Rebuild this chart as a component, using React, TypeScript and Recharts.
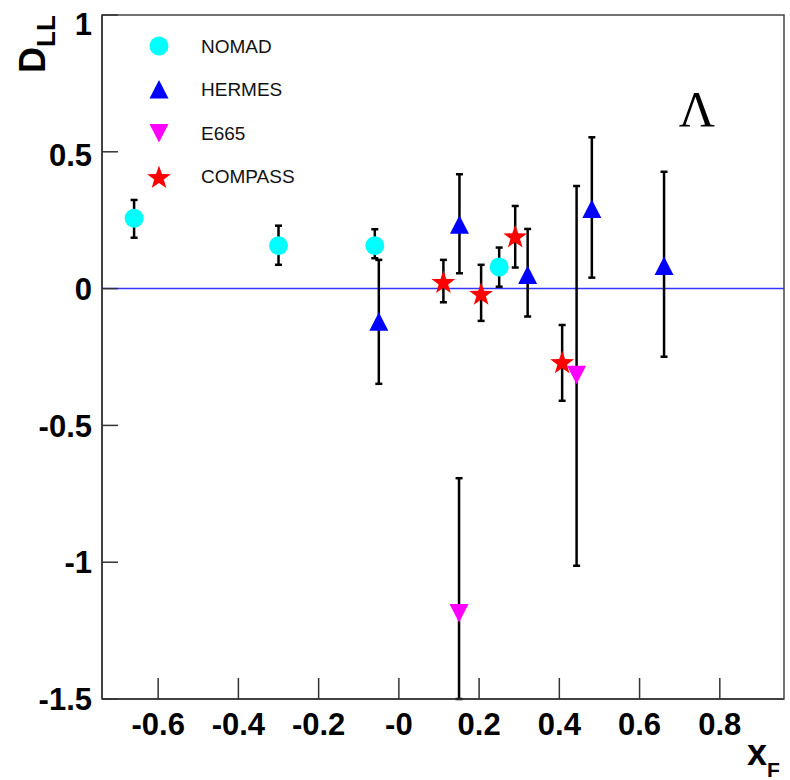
import React from 'react';
import {
  ScatterChart,
  Scatter,
  XAxis,
  YAxis,
  ErrorBar,
  ReferenceLine,
  ReferenceArea,
  Legend,
  Customized,
} from 'recharts';

// ---------- axis data ----------
const xTicks = [-0.6, -0.4, -0.2, 0, 0.2, 0.4, 0.6, 0.8];
const yTicks = [-1.5, -1, -0.5, 0, 0.5, 1];
const xDomain: [number, number] = [-0.74, 0.96];
const yDomain: [number, number] = [-1.5, 1];

// ---------- series data (x_F, D_LL, [lower error, upper error]) ----------
const nomad = [
  { x: -0.66, y: 0.257, err: [0.071, 0.067] },
  { x: -0.3, y: 0.157, err: [0.07, 0.073] },
  { x: -0.06, y: 0.157, err: [0.046, 0.06] },
  { x: 0.25, y: 0.079, err: [0.072, 0.071] },
];
const hermes = [
  { x: -0.05, y: -0.121, err: [0.227, 0.226] },
  { x: 0.151, y: 0.233, err: [0.177, 0.185] },
  { x: 0.321, y: 0.05, err: [0.152, 0.168] },
  { x: 0.481, y: 0.291, err: [0.251, 0.262] },
  { x: 0.661, y: 0.083, err: [0.332, 0.344] },
];
const e665 = [
  { x: 0.15, y: -1.186, err: [0.314, 0.493] },
  { x: 0.443, y: -0.315, err: [0.698, 0.69] },
];
const compass = [
  { x: 0.111, y: 0.026, err: [0.076, 0.079] },
  { x: 0.205, y: -0.017, err: [0.101, 0.104] },
  { x: 0.29, y: 0.193, err: [0.116, 0.109] },
  { x: 0.407, y: -0.267, err: [0.143, 0.134] },
];

const seriesNames = ['NOMAD', 'HERMES', 'E665', 'COMPASS'];
const seriesData = [nomad, hermes, e665, compass];

// ---------- styles ----------
const seriesStyle: Record<string, { color: string; kind: string }> = {
  NOMAD: { color: '#00ffff', kind: 'circle' },
  HERMES: { color: '#0000ff', kind: 'up' },
  E665: { color: '#ff00ff', kind: 'down' },
  COMPASS: { color: '#ff0000', kind: 'star' },
};

const SANS = '"Liberation Sans", Arial, Helvetica, sans-serif';
const SERIF = '"Liberation Serif", "Times New Roman", serif';

function Marker({ kind, cx, cy, color }: { kind: string; cx: number; cy: number; color: string }) {
  if (cx == null || cy == null) return null;
  if (kind === 'circle') return <circle cx={cx} cy={cy} r={9.5} fill={color} />;
  if (kind === 'up')
    return (
      <polygon
        points={`${cx},${cy - 9.5} ${cx - 9.5},${cy + 9} ${cx + 9.5},${cy + 9}`}
        fill={color}
      />
    );
  if (kind === 'down')
    return (
      <polygon
        points={`${cx},${cy + 9.5} ${cx - 9.5},${cy - 9} ${cx + 9.5},${cy - 9}`}
        fill={color}
      />
    );
  const pts: string[] = [];
  for (let i = 0; i < 10; i++) {
    const r = i % 2 === 0 ? 12.5 : 5;
    const a = -Math.PI / 2 + (i * Math.PI) / 5;
    pts.push(`${cx + r * Math.cos(a)},${cy + 1.5 + r * Math.sin(a)}`);
  }
  return <polygon points={pts.join(' ')} fill={color} />;
}

const fmtY = (v: number) => String(v);
const fmtX = (v: number) => (v === 0 ? '-0' : String(v));

const YTick = (props: any) => {
  const { x, y, payload } = props;
  const shift = payload.value === yDomain[1] ? 9 : payload.value === 0.5 ? 3 : 0;
  return (
    <g>
      <line x1={x + 10} x2={x + 26} y1={y} y2={y} stroke="#333" strokeWidth={1.5} />
      <text
        x={x}
        y={y + shift}
        dy="0.36em"
        textAnchor="end"
        fontSize={31}
        fontWeight="bold"
        fontFamily={SANS}
        fill="#000"
      >
        {fmtY(payload.value)}
      </text>
    </g>
  );
};

const XTick = (props: any) => {
  const { x, y, payload } = props;
  return (
    <g>
      <line x1={x} x2={x} y1={y - 14} y2={y - 35} stroke="#333" strokeWidth={1.5} />
      <text
        x={x}
        y={y}
        dy="0.71em"
        textAnchor="middle"
        fontSize={31}
        fontWeight="bold"
        fontFamily={SANS}
        fill="#000"
      >
        {fmtX(payload.value)}
      </text>
    </g>
  );
};

const LegendContent = () => (
  <svg width={220} height={175} style={{ display: 'block' }}>
    {seriesNames.map((name, i) => {
      const st = seriesStyle[name];
      const cy = 20 + i * 43.5;
      return (
        <g key={name}>
          <Marker kind={st.kind} cx={20} cy={cy} color={st.color} />
          <text x={62} y={cy} dy="0.36em" fontSize={19} fontFamily={SANS} fill="#111">
            {name}
          </text>
        </g>
      );
    })}
  </svg>
);

const Titles = () => (
  <g>
    <text
      x={45}
      y={73}
      transform="rotate(-90 45 73)"
      fontSize={36}
      fontWeight="bold"
      fontFamily={SANS}
      fill="#000"
    >
      D
      <tspan dy={10} fontSize={26}>
        LL
      </tspan>
    </text>
    <text x={747} y={765} fontSize={36} fontWeight="bold" fontFamily={SANS} fill="#000">
      x
      <tspan dy={12} fontSize={21}>
        F
      </tspan>
    </text>
    <text x={697} y={126} textAnchor="middle" fontSize={50} fontFamily={SERIF} fill="#000">
      Λ
    </text>
  </g>
);

export default function App() {
  return (
    <div
      style={{
        position: 'absolute',
        left: 0,
        top: 0,
        width: 790,
        height: 780,
        background: '#fff',
        fontFamily: SANS,
      }}
    >
      <ScatterChart
        width={790}
        height={780}
        margin={{ top: 15, right: 6, bottom: 51, left: 42 }}
      >
        <XAxis
          type="number"
          dataKey="x"
          domain={xDomain}
          ticks={xTicks}
          allowDataOverflow
          height={30}
          tickSize={0}
          tickMargin={14}
          tickLine={false}
          axisLine={{ stroke: '#333', strokeWidth: 1.5 }}
          tick={<XTick />}
          interval={0}
        />
        <YAxis
          type="number"
          dataKey="y"
          domain={yDomain}
          ticks={yTicks}
          allowDataOverflow
          width={60}
          tickSize={0}
          tickMargin={10}
          tickLine={false}
          axisLine={{ stroke: '#333', strokeWidth: 1.5 }}
          tick={<YTick />}
          interval={0}
        />
        <ReferenceArea
          x1={xDomain[0]}
          x2={xDomain[1]}
          y1={yDomain[0]}
          y2={yDomain[1]}
          fill="none"
          fillOpacity={0}
          stroke="#444"
          strokeWidth={1.5}
        />
        <ReferenceLine y={0} stroke="#3535ff" strokeWidth={1.5} />
        {seriesNames.map((name, i) => {
          const st = seriesStyle[name];
          return (
            <Scatter
              key={name}
              name={name}
              data={seriesData[i]}
              fill={st.color}
              isAnimationActive={false}
              shape={(p: any) => <Marker kind={st.kind} cx={p.cx} cy={p.cy} color={st.color} />}
            >
              <ErrorBar
                dataKey="err"
                direction="y"
                width={3.5}
                strokeWidth={2.5}
                stroke="#000"
                isAnimationActive={false}
              />
            </Scatter>
          );
        })}
        <Legend
          layout="vertical"
          align="center"
          verticalAlign="middle"
          content={<LegendContent />}
          wrapperStyle={{ left: 139, top: 26, width: 220, height: 175 }}
        />
        <Customized component={Titles} />
      </ScatterChart>
    </div>
  );
}
